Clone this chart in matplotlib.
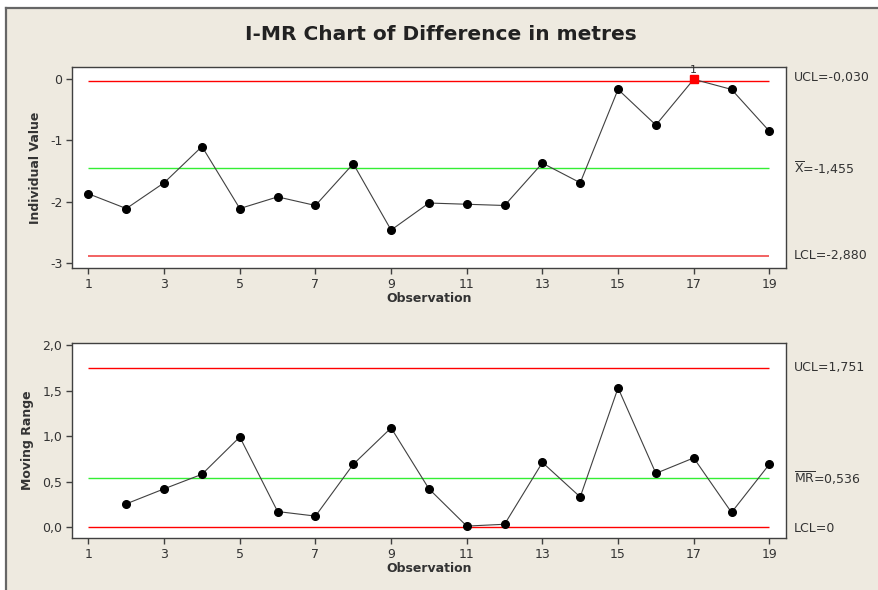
import matplotlib
matplotlib.use("Agg")
import matplotlib.pyplot as plt
from matplotlib.patches import Rectangle
from matplotlib.lines import Line2D

plt.rcParams["font.family"] = ["DejaVu Sans"]
plt.rcParams["axes.unicode_minus"] = False
plt.rcParams["mathtext.fontset"] = "dejavusans"

# individual measurements (difference in metres)
observations = list(range(1, 20))
individual = [-1.87, -2.11, -1.69, -1.10, -2.11, -1.92, -2.06, -1.38, -2.46, -2.02,
              -2.04, -2.06, -1.37, -1.69, -0.17, -0.75, -0.005, -0.17, -0.85]
i_ucl, i_mean, i_lcl = -0.030, -1.455, -2.880

# moving ranges (start at observation 2)
mr_obs = list(range(2, 20))
moving_range = [0.255, 0.42, 0.58, 0.99, 0.17, 0.12, 0.69, 1.09, 0.42, 0.01,
                0.03, 0.71, 0.33, 1.53, 0.59, 0.76, 0.16, 0.69]
mr_ucl, mr_mean, mr_lcl = 1.751, 0.536, 0.0

i_yticks = [0, -1, -2, -3]
mr_yticks = [0.0, 0.5, 1.0, 1.5, 2.0]
xticks = [1, 3, 5, 7, 9, 11, 13, 15, 17, 19]

BG = "#eeeae0"
INK = "#333333"
RED = "#ff0000"
RED_LIGHT = "#f26262"
GREEN = "#33ee33"

W, H = 879, 590
fig = plt.figure(figsize=(W / 100, H / 100), dpi=100, facecolor=BG)


def fx(px):
    return px / W


def fy(py):
    return 1 - py / H


# white margin and window frame on the top and left edges only
fig.patches.append(Rectangle((0, fy(7)), 1, 7 / H, transform=fig.transFigure,
                             facecolor="white", edgecolor="none", zorder=-10))
fig.patches.append(Rectangle((0, 0), fx(6), 1, transform=fig.transFigure,
                             facecolor="white", edgecolor="none", zorder=-10))
fig.lines.append(Line2D([fx(6.5), 1], [fy(7.5), fy(7.5)], transform=fig.transFigure,
                        color="#666666", lw=1.6))
fig.lines.append(Line2D([fx(6.5), fx(6.5)], [0, fy(7.5)], transform=fig.transFigure,
                        color="#666666", lw=1.6))


def style_axes(ax):
    ax.set_facecolor("white")
    for s in ax.spines.values():
        s.set_color("#404040")
        s.set_linewidth(1.0)
    ax.tick_params(direction="out", length=4, width=1, color="#404040",
                   labelsize=9, labelcolor=INK, pad=3)
    ax.set_xlim(0.564, 19.44)
    ax.set_xticks(xticks)
    ax.set_xlabel("Observation", fontsize=9, fontweight="bold", color=INK, labelpad=1)


def side_label(y_px, text):
    fig.text(fx(794), fy(y_px), text, fontsize=9, color=INK, va="center", ha="left")


# I chart
ax1 = fig.add_axes([fx(72), fy(268), fx(786 - 72), (268 - 67) / H])
style_axes(ax1)
ax1.set_ylim(-3.078, 0.195)
ax1.set_yticks(i_yticks)
ax1.set_yticklabels([str(v) for v in i_yticks])
ax1.set_ylabel("Individual Value", fontsize=9, fontweight="bold", color=INK, labelpad=6)
ax1.hlines(i_ucl, 1, 19, color=RED, lw=1.0, zorder=1)
ax1.hlines(i_mean, 1, 19, color=GREEN, lw=1.0, zorder=1)
ax1.hlines(i_lcl, 1, 19, color=RED_LIGHT, lw=1.4, zorder=1)
ax1.plot(observations, individual, color="#404040", lw=0.8, zorder=2)
for x, v in zip(observations, individual):
    if v > i_ucl or v < i_lcl:
        ax1.plot(x, v, "s", color="#ff0000", ms=6, zorder=3)
        ax1.text(x, v + 0.07, "1", fontsize=8, color=INK, ha="center", va="bottom")
    else:
        ax1.plot(x, v, "o", color="black", ms=5.5, zorder=3)

side_label(78, "UCL=-0,030")
side_label(168, r"$\overline{\mathrm{X}}$=-1,455")
side_label(256, "LCL=-2,880")

# MR chart
ax2 = fig.add_axes([fx(72), fy(538), fx(786 - 72), (538 - 343) / H])
style_axes(ax2)
ax2.set_ylim(-0.121, 2.024)
ax2.set_yticks(mr_yticks)
ax2.set_yticklabels([f"{v:.1f}".replace(".", ",") for v in mr_yticks])
ax2.set_ylabel("Moving Range", fontsize=9, fontweight="bold", color=INK, labelpad=6)
ax2.hlines(mr_ucl, 1, 19, color=RED, lw=1.0, zorder=1)
ax2.hlines(mr_mean, 1, 19, color=GREEN, lw=1.0, zorder=1)
ax2.hlines(mr_lcl, 1, 19, color=RED, lw=1.0, zorder=1)
ax2.plot(mr_obs, moving_range, color="#404040", lw=0.8, marker="o",
         mfc="black", mec="black", ms=5.5, zorder=2)

side_label(368, "UCL=1,751")
side_label(478, r"$\overline{\mathrm{MR}}$=0,536")
side_label(528, "LCL=0")

fig.text(fx(441), fy(34), "I-MR Chart of Difference in metres", fontsize=14.5,
         fontweight="bold", color="#222222", ha="center", va="center")

fig.savefig("out.png", dpi=100, facecolor=fig.get_facecolor())
